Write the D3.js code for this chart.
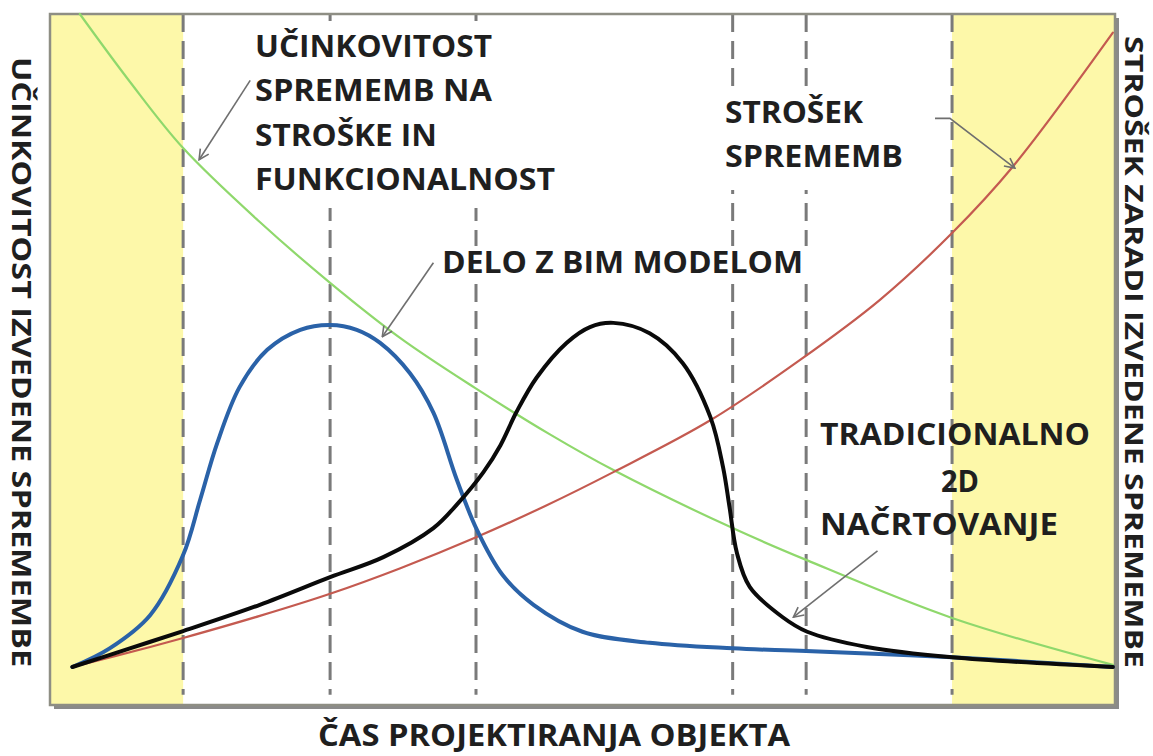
<!DOCTYPE html>
<html>
<head>
<meta charset="utf-8">
<script src="https://cdn.jsdelivr.net/npm/d3@7/dist/d3.min.js"></script>
<style>
  body { margin: 0; background: #fff; }
  text { font-family: "Open Sans", sans-serif; font-weight: 700; fill: #1f1f1f; }
</style>
</head>
<body>
<div id="chart"></div>
<script>
var width = 1153;
var height = 756;

// x = share of design time (%), y = relative level (%)
var efficiencyCurve = [
  [2.8, 100], [7.5, 90.2], [12.5, 80.6], [19.7, 69.9], [26.3, 61.1], [32.9, 53.1],
  [39.9, 45.9], [46.9, 39.2], [52.9, 34.0], [64.1, 25.6], [71.0, 21.0], [84.7, 12.6], [99.8, 5.8]
];
var costCurve = [
  [2.1, 5.5], [9.4, 8.4], [12.5, 9.7], [19.7, 12.9], [26.3, 16.1], [32.9, 19.8],
  [39.9, 24.2], [46.5, 28.8], [52.9, 33.7], [62.0, 41.2], [70.4, 49.9], [77.9, 58.6],
  [84.7, 68.3], [90.4, 77.9], [99.8, 97.3]
];
var bimCurve = [
  [2.1, 5.5], [5.6, 8.2], [9.4, 13.0], [12.5, 21.7], [14.1, 29.7], [15.7, 37.9],
  [17.8, 46.0], [20.4, 51.4], [23.5, 54.3], [26.3, 55.0], [28.8, 54.3], [31.0, 52.4],
  [33.8, 48.0], [36.0, 42.3], [38.2, 32.6], [40.1, 25.3], [42.5, 18.8], [45.4, 14.5],
  [50.0, 10.6], [56.3, 9.0], [64.1, 8.2], [71.0, 7.8], [84.7, 6.9], [99.8, 5.5]
];
var traditionalCurve = [
  [2.1, 5.5], [7.5, 8.2], [12.5, 10.7], [19.7, 14.5], [26.3, 18.5], [31.3, 21.4],
  [36.0, 25.6], [38.2, 29.0], [40.7, 33.7], [42.3, 37.6], [43.8, 42.4], [45.7, 47.4],
  [48.5, 52.4], [50.7, 54.7], [52.9, 55.3], [56.3, 53.8], [59.4, 49.5], [62.0, 41.7],
  [63.2, 34.4], [63.8, 28.7], [64.5, 22.0], [65.7, 17.1], [68.8, 12.7], [71.1, 10.6],
  [76.7, 8.4], [84.7, 6.9], [99.8, 5.5]
];
var phaseBounds = [12.5, 26.3, 40.0, 64.1, 71.0, 84.7];
var shadedZones = [[0, 12.5], [84.7, 100]];

var xTitle = "ČAS PROJEKTIRANJA OBJEKTA";
var yLeftTitle = "UČINKOVITOST IZVEDENE SPREMEMBE";
var yRightTitle = "STROŠEK ZARADI IZVEDENE SPREMEMBE";

const x = d3.scaleLinear().domain([0, 100]).range([50, 1115]);
const y = d3.scaleLinear().domain([0, 100]).range([705, 14]);

const svg = d3.select("#chart").append("svg")
  .attr("width", width)
  .attr("height", height);

// open arrow head
svg.append("defs").append("marker")
  .attr("id", "arrow")
  .attr("viewBox", "0 0 12 12")
  .attr("refX", 11).attr("refY", 6)
  .attr("markerWidth", 12).attr("markerHeight", 12)
  .attr("markerUnits", "userSpaceOnUse")
  .attr("orient", "auto")
  .append("path")
  .attr("d", "M1,1 L11,6 L1,11")
  .attr("fill", "none")
  .attr("stroke", "#6f6f6f")
  .attr("stroke-width", 1.6);

// frame shadow + plot background
svg.append("rect")
  .attr("x", x(0) + 4).attr("y", y(100) + 4)
  .attr("width", x(100) - x(0)).attr("height", y(0) - y(100))
  .attr("fill", "#8a8a8a");
svg.append("rect")
  .attr("x", x(0)).attr("y", y(100))
  .attr("width", x(100) - x(0)).attr("height", y(0) - y(100))
  .attr("fill", "#fff");

svg.selectAll(".zone")
  .data(shadedZones)
  .join("rect")
  .attr("class", "zone")
  .attr("x", d => x(d[0]))
  .attr("y", y(100))
  .attr("width", d => x(d[1]) - x(d[0]))
  .attr("height", y(0) - y(100))
  .attr("fill", "#fdf8a9");

svg.selectAll(".phase")
  .data(phaseBounds)
  .join("line")
  .attr("class", "phase")
  .attr("x1", d => x(d)).attr("x2", d => x(d))
  .attr("y1", y(100)).attr("y2", y(1.5))
  .attr("stroke", "#7a7a7a")
  .attr("stroke-width", 3)
  .attr("stroke-dasharray", "18,9");

// white boxes behind the upper labels (they hide the dashes)
[
  [250, 21, 315, 187],
  [718, 86, 192, 104],
  [436, 246, 372, 37]
].forEach(b => {
  svg.append("rect").attr("x", b[0]).attr("y", b[1])
    .attr("width", b[2]).attr("height", b[3]).attr("fill", "#fff");
});

svg.append("rect")
  .attr("x", x(0)).attr("y", y(100))
  .attr("width", x(100) - x(0)).attr("height", y(0) - y(100))
  .attr("fill", "none")
  .attr("stroke", "#8e8e84")
  .attr("stroke-width", 2.5);

const line = d3.line()
  .x(d => x(d[0]))
  .y(d => y(d[1]))
  .curve(d3.curveCatmullRom.alpha(0.5));

[
  { data: efficiencyCurve, color: "#8fd86c", w: 2.2 },
  { data: costCurve, color: "#c45a50", w: 2.2 },
  { data: bimCurve, color: "#2a62a8", w: 4 },
  { data: traditionalCurve, color: "#0a0a0a", w: 4 }
].forEach(s => {
  svg.append("path")
    .datum(s.data)
    .attr("d", line)
    .attr("fill", "none")
    .attr("stroke", s.color)
    .attr("stroke-width", s.w)
    .attr("stroke-linejoin", "round")
    .attr("stroke-linecap", "round");
});

// arrows from labels to curves
const arrows = [
  [[18.8, 90.4], [14.0, 78.9]],
  [[83.1, 84.9], [84.5, 84.9], [90.6, 77.7]],
  [[36.0, 64.0], [31.2, 53.3]],
  [[77.7, 22.3], [69.8, 12.7]]
];
svg.selectAll(".arrow")
  .data(arrows)
  .join("path")
  .attr("class", "arrow")
  .attr("d", d3.line().x(d => x(d[0])).y(d => y(d[1])))
  .attr("fill", "none")
  .attr("stroke", "#6f6f6f")
  .attr("stroke-width", 1.6)
  .attr("marker-end", "url(#arrow)");

// labels: text, x, baseline, width
const labels = [
  ["UČINKOVITOST", 255, 57, 237],
  ["SPREMEMB NA", 255, 101, 237],
  ["STROŠKE IN", 255, 146, 182],
  ["FUNKCIONALNOST", 255, 190, 300],
  ["STROŠEK", 725, 123, 138],
  ["SPREMEMB", 725, 167, 178],
  ["DELO Z BIM MODELOM", 442, 273, 361],
  ["TRADICIONALNO", 820, 445, 270],
  ["2D", 941, 492, 38],
  ["NAČRTOVANJE", 820, 535, 238]
];
svg.selectAll(".lbl")
  .data(labels)
  .join("text")
  .attr("class", "lbl")
  .attr("x", d => d[1])
  .attr("y", d => d[2])
  .attr("font-size", 30)
  .attr("textLength", d => d[3])
  .attr("lengthAdjust", "spacingAndGlyphs")
  .text(d => d[0]);

svg.append("text")
  .attr("x", 554).attr("y", 746)
  .attr("text-anchor", "middle")
  .attr("font-size", 30)
  .attr("textLength", 472)
  .attr("lengthAdjust", "spacingAndGlyphs")
  .text(xTitle);

svg.append("text")
  .attr("transform", "translate(12,362) rotate(90)")
  .attr("text-anchor", "middle")
  .attr("font-size", 27)
  .attr("textLength", 610)
  .attr("lengthAdjust", "spacingAndGlyphs")
  .text(yLeftTitle);

svg.append("text")
  .attr("transform", "translate(1125,352) rotate(90)")
  .attr("text-anchor", "middle")
  .attr("font-size", 25)
  .attr("textLength", 632)
  .attr("lengthAdjust", "spacingAndGlyphs")
  .text(yRightTitle);
</script>
</body>
</html>
